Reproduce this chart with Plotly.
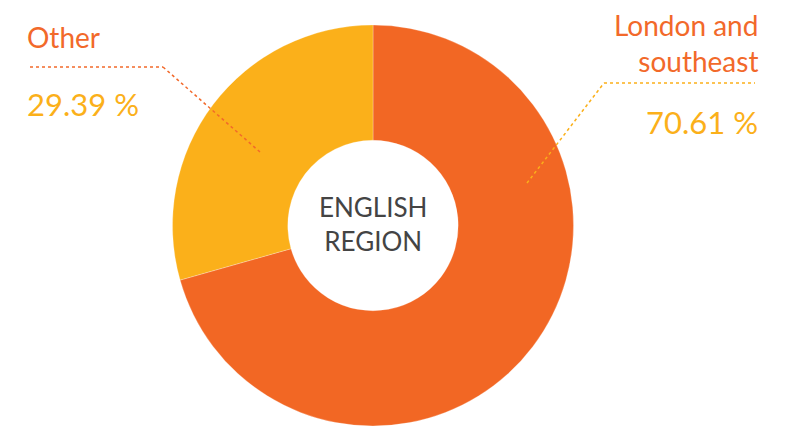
import plotly.graph_objects as go

labels = ["London and southeast", "Other"]
values = [70.61, 29.39]
colors = ["#F26724", "#FBB01A"]
center_title = "ENGLISH<br>REGION"

# page body has an 8px margin; figure coordinates are offset accordingly
OFF = 8
W, H = 789 - OFF, 428 - OFF
FONT = "Lato"

def px(x):
    return (x - OFF) / W

def py(y):
    return 1 - (y - OFF) / H

cx, cy, R = 373, 225.5, 200.5

fig = go.Figure(go.Pie(
    labels=labels,
    values=values,
    hole=0.425,
    sort=False,
    direction="clockwise",
    rotation=0,
    textinfo="none",
    hoverinfo="label+percent",
    marker=dict(colors=colors, line=dict(color="rgba(255,255,255,0.5)", width=0.5)),
    domain=dict(x=[0, 2 * (cx - OFF) / W], y=[py(cy + R), py(cy - R)]),
    showlegend=False,
))

label_col = "#F2692A"
val_col = "#FBB01A"

annotations = [
    dict(text=center_title, x=px(373), y=py(224), xanchor="center", yanchor="middle",
         font=dict(family=FONT, size=26, color="#444444"), showarrow=False),
    dict(text="London and<br>southeast", x=px(760), y=py(43), xanchor="right", yanchor="middle",
         align="right", font=dict(family=FONT, size=28, color=label_col), showarrow=False),
    dict(text=f"{values[0]:.2f} %", x=px(760), y=py(122), xanchor="right", yanchor="middle",
         align="right", font=dict(family=FONT, size=31, color=val_col), showarrow=False),
    dict(text=labels[1], x=px(25), y=py(37), xanchor="left", yanchor="middle",
         font=dict(family=FONT, size=28, color=label_col), showarrow=False),
    dict(text=f"{values[1]:.2f} %", x=px(25), y=py(104), xanchor="left", yanchor="middle",
         font=dict(family=FONT, size=31, color=val_col), showarrow=False),
]

def seg(x0, y0, x1, y1, c):
    return dict(type="line", xref="paper", yref="paper", x0=px(x0), y0=py(y0),
                x1=px(x1), y1=py(y1), line=dict(color=c, width=1.5, dash="dot"))

shapes = [
    seg(30, 67, 163, 67, label_col),
    seg(163, 67, 260, 152, label_col),
    seg(527, 183, 604, 83, val_col),
    seg(604, 83, 755, 83, val_col),
]

fig.update_layout(
    width=W, height=H,
    margin=dict(l=0, r=0, t=0, b=0),
    paper_bgcolor="white", plot_bgcolor="white",
    annotations=annotations, shapes=shapes,
)

fig.write_html("out.html")
